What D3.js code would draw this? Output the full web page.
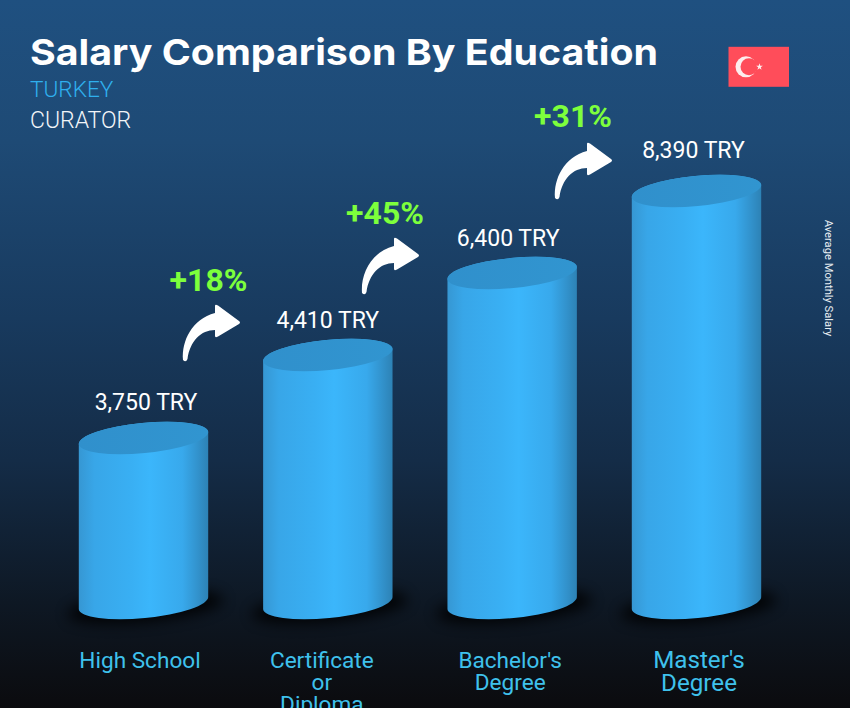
<!DOCTYPE html>
<html><head><meta charset="utf-8">
<script src="https://cdn.jsdelivr.net/npm/d3@7"></script>
<style>html,body{margin:0;padding:0;background:#0c0c10;overflow:hidden}svg{display:block}text{font-family:Roboto,sans-serif}</style>
</head><body><svg id="c" width="850" height="708"></svg>
<script>
const categories = ["High School", "Certificate or Diploma", "Bachelor's Degree", "Master's Degree"];
const categoryLines = [["High School"], ["Certificate", "or", "Diploma"], ["Bachelor's", "Degree"], ["Master's", "Degree"]];
const salaries = [3750, 4410, 6400, 8390];
const valueLabels = ["3,750 TRY", "4,410 TRY", "6,400 TRY", "8,390 TRY"];
const increases = ["+18%", "+45%", "+31%"];

// layout only
const labelShift = [2.5, 0, -4, -3];
const labelLift = [28, 27, 27, 33];
const catShift = [-3.5, -6, -2, 2.5];
const catSize = [22.6, 22.6, 22.6, 24.2];
const catLeading = [22, 22, 22, 23];
const arrowOrigins = [[183, 361], [362, 294], [555, 199]];
const pctCentres = [[208.5, 291], [385, 224], [573, 127]];

const W = 850, H = 708, barW = 129, base = 608;
const svg = d3.select("#c");
const defs = svg.append("defs");

const bgGrad = defs.append("linearGradient").attr("id", "bg").attr("x1", 0).attr("x2", 0).attr("y1", 0).attr("y2", 1);
[[0, "#1f5080"], [0.2, "#1e4a75"], [0.45, "#183a5e"], [0.65, "#142c47"], [0.85, "#0e1824"], [1, "#0b0b0e"]]
  .forEach(s => bgGrad.append("stop").attr("offset", s[0]).attr("stop-color", s[1]));

const bodyGrad = defs.append("linearGradient").attr("id", "body").attr("x1", 0).attr("x2", 1).attr("y1", 0).attr("y2", 0);
[[0, "#3697d3"], [0.12, "#38a6e8"], [0.4, "#39aff3"], [0.55, "#3bb6fb"], [0.8, "#38a9ec"], [0.92, "#3292cc"], [1, "#2d82b5"]]
  .forEach(s => bodyGrad.append("stop").attr("offset", s[0]).attr("stop-color", s[1]));

const topGrad = defs.append("linearGradient").attr("id", "capGrad").attr("x1", 0).attr("x2", 1).attr("y1", 0).attr("y2", 0);
[[0, "#3090cc"], [1, "#3195d0"]].forEach(s => topGrad.append("stop").attr("offset", s[0]).attr("stop-color", s[1]));

defs.append("filter").attr("id", "blur").attr("x", "-30%").attr("y", "-100%").attr("width", "160%").attr("height", "300%")
  .append("feGaussianBlur").attr("stdDeviation", 7);

svg.append("rect").attr("width", W).attr("height", H).attr("fill", "url(#bg)");

const x = d3.scalePoint().domain(categories).range([79, 632]);
const y = d3.scaleLinear().domain(salaries).range([438, 355, 273, 191]);

const rx = 65, ry = 15, tilt = -5.5;
const dy = Math.sin(-tilt * Math.PI / 180) * rx;
const dx = Math.cos(tilt * Math.PI / 180) * rx;

const bars = svg.append("g").selectAll("g").data(salaries).join("g")
  .attr("transform", (d, i) => `translate(${x(categories[i]) + barW / 2},0)`);

bars.append("ellipse").attr("cx", 2).attr("cy", base - 1).attr("rx", 78).attr("ry", 15)
  .attr("transform", `rotate(${tilt} 2 ${base})`)
  .attr("fill", "#000").attr("opacity", 0.85).attr("filter", "url(#blur)");

bars.append("path").attr("fill", "url(#body)").attr("d", d => {
  const t = y(d);
  return `M${-dx},${t + dy} L${-dx},${base - 5 + dy} A${rx},${ry} ${tilt} 0 0 ${dx},${base - 5 - dy} L${dx},${t - dy} A${rx},${ry} ${tilt} 0 0 ${-dx},${t + dy} Z`;
});

bars.append("ellipse").attr("rx", rx).attr("ry", ry)
  .attr("transform", d => `translate(0,${y(d)}) rotate(${tilt})`)
  .attr("fill", "url(#capGrad)");

svg.append("g").selectAll("text").data(valueLabels).join("text")
  .attr("x", (d, i) => x(categories[i]) + barW / 2 + labelShift[i])
  .attr("y", (d, i) => y(salaries[i]) - labelLift[i])
  .attr("text-anchor", "middle").attr("fill", "#fff").attr("font-size", 23)
  .text(d => d);

const cats = svg.append("g").selectAll("text").data(categoryLines).join("text")
  .attr("text-anchor", "middle").attr("fill", "#3fc1ec")
  .attr("font-size", (d, i) => catSize[i]);
cats.selectAll("tspan").data((d, i) => d.map(t => ({ t, i }))).join("tspan")
  .attr("x", d => x(categories[d.i]) + barW / 2 + catShift[d.i])
  .attr("y", (d, j) => 668 + j * catLeading[d.i])
  .text(d => d.t);

const arrowPath = "M0,-1 C-1.5,-20 9,-42 32,-48 L32,-55 Q32,-57 35,-55.5 L56,-40 Q58,-38.5 56,-37 L35,-24.5 Q32,-23 32,-25 L32,-31 C18,-31 7,-20 4.5,-2 Q3,2 0,-1 Z";
svg.append("g").selectAll("path").data(arrowOrigins).join("path")
  .attr("transform", d => `translate(${d[0]},${d[1]})`)
  .attr("d", arrowPath).attr("fill", "#fff");

svg.append("g").selectAll("text").data(increases).join("text")
  .attr("x", (d, i) => pctCentres[i][0]).attr("y", (d, i) => pctCentres[i][1])
  .attr("text-anchor", "middle").attr("fill", "#7dff3c")
  .attr("font-size", 32).attr("font-weight", 700).text(d => d);

svg.append("text").attr("x", 30).attr("y", 65).attr("fill", "#fff")
  .attr("font-size", 36).attr("font-weight", 700)
  .style("font-family", "Inter, 'Open Sans', sans-serif")
  .attr("textLength", 628).attr("lengthAdjust", "spacingAndGlyphs")
  .text("Salary Comparison By Education");
svg.append("text").attr("x", 30).attr("y", 97).attr("fill", "#2fb0ee").attr("font-size", 22.6).attr("font-weight", 300).text("TURKEY");
svg.append("text").attr("x", 30).attr("y", 127.5).attr("fill", "#f2f5f8").attr("font-size", 23).attr("font-weight", 300).text("CURATOR");

svg.append("text").attr("transform", "translate(825,278) rotate(90)")
  .attr("text-anchor", "middle").attr("fill", "#e8eef3").attr("font-size", 11.2)
  .text("Average Monthly Salary");

const flag = svg.append("g").attr("transform", "translate(728.5,46.8)");
flag.append("rect").attr("width", 60.5).attr("height", 40).attr("fill", "#ff4d5a");
flag.append("circle").attr("cx", 17.5).attr("cy", 20).attr("r", 10.5).attr("fill", "#fdeeee");
flag.append("circle").attr("cx", 20.5).attr("cy", 20).attr("r", 8.5).attr("fill", "#ff4d5a");
flag.append("path").attr("transform", "translate(31,20)").attr("fill", "#fdeeee")
  .attr("d", d3.symbol().type(d3.symbolStar).size(14)());
</script></body></html>
